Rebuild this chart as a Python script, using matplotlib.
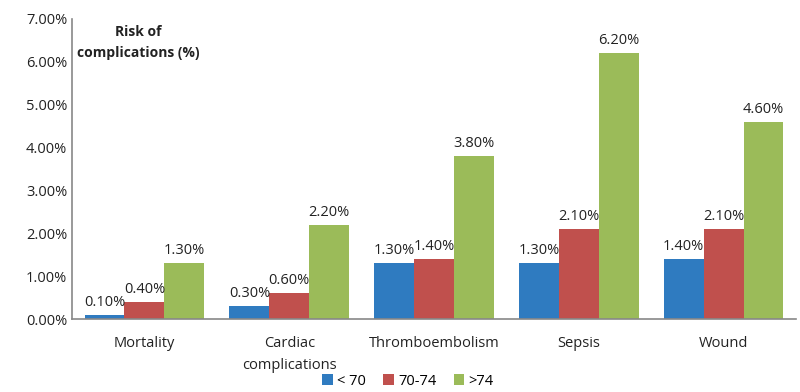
import numpy as np
import matplotlib.pyplot as plt

plt.rcParams['font.family'] = ['Open Sans', 'DejaVu Sans']

categories = ["Mortality", "Cardiac\ncomplications", "Thromboembolism", "Sepsis", "Wound"]
groups = ["< 70", "70-74", ">74"]
under70 = [0.10, 0.30, 1.30, 1.30, 1.40]
age70_74 = [0.40, 0.60, 1.40, 2.10, 2.10]
over74 = [1.30, 2.20, 3.80, 6.20, 4.60]
colors = ["#2F7BC0", "#C0504D", "#9BBB59"]

fig = plt.figure(figsize=(8, 3.92), dpi=100)
ax = fig.add_axes([0.09, 0.186, 0.905, 0.766])

x = np.arange(len(categories))
w = 0.275
for i, (vals, lab) in enumerate(zip([under70, age70_74, over74], groups)):
    bars = ax.bar(x + (i - 1) * w, vals, w, color=colors[i], label=lab)
    for b, v in zip(bars, vals):
        ax.text(b.get_x() + b.get_width() / 2, v + 0.12, f"{v:.2f}%",
                ha="center", va="bottom", fontsize=10.5, color="#222222")

ax.set_xlim(-0.5, 4.5)
ax.set_ylim(0, 7)
ax.set_yticks(np.arange(0, 8, 1))
ax.set_yticklabels([f"{t:.2f}%" for t in range(8)])
ax.set_xticks(x)
ax.set_xticklabels(categories, linespacing=1.7)
ax.tick_params(length=0, labelsize=10.5, colors="#222222")
ax.tick_params(axis="x", pad=12)
for s in ["top", "right"]:
    ax.spines[s].set_visible(False)
for s in ["left", "bottom"]:
    ax.spines[s].set_color("#888888")
    ax.spines[s].set_linewidth(1.2)

ax.text(-0.04, 6.45, "Risk of\ncomplications (%)", ha="center", va="center",
        fontsize=10, fontweight="bold", color="#222222", linespacing=1.7)

fig.legend(loc="lower center", bbox_to_anchor=(0.51, -0.025), ncol=3, frameon=False,
           fontsize=10.5, handlelength=0.7, handleheight=0.7, handletextpad=0.3,
           columnspacing=1.2)

fig.savefig("out.png", dpi=100)
